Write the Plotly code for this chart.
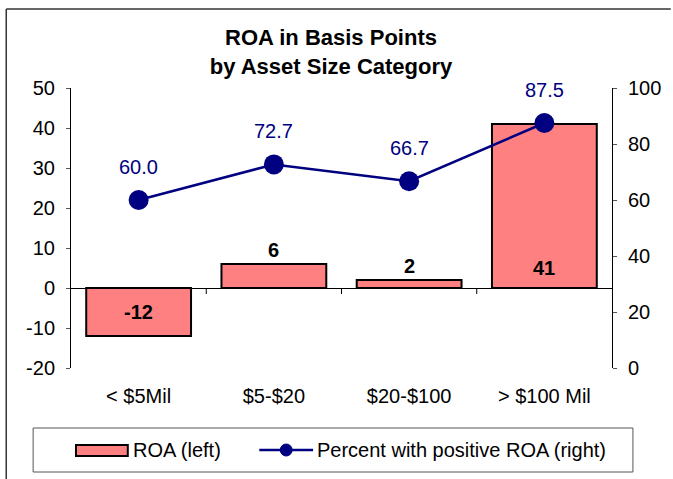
import plotly.graph_objects as go

categories = ["< $5Mil", "$5-$20", "$20-$100", "> $100 Mil"]
roa = [-12, 6, 2, 41]
pct_positive = [60.0, 72.7, 66.7, 87.5]
left_ticks = [-20, -10, 0, 10, 20, 30, 40, 50]
right_ticks = [0, 20, 40, 60, 80, 100]
bar_label_inside = [True, False, False, True]

W, H = 673, 479
L, R, T, B = 71, 59, 88, 111
pw, ph = W - L - R, H - T - B

def px(x):
    return (x - L) / pw

def py(y):
    return (H - B - y) / ph

font = "Liberation Sans, Arial, sans-serif"
navy = "#000080"
salmon = "#FF8080"
FS = 20

fig = go.Figure()
fig.add_trace(go.Bar(
    x=categories, y=roa, name="ROA (left)",
    marker=dict(color=salmon, line=dict(color="black", width=2)),
    width=0.775,
    showlegend=False,
    yaxis="y",
))
fig.add_trace(go.Scatter(
    x=categories, y=pct_positive, name="Percent with positive ROA (right)",
    mode="lines+markers",
    line=dict(color=navy, width=2.5),
    marker=dict(color=navy, size=20),
    showlegend=False,
    yaxis="y2",
))

# line value labels
for c, v in zip(categories, pct_positive):
    fig.add_annotation(x=c, y=v, yref="y2", text=f"{v:.1f}", showarrow=False,
                       yshift=33, yanchor="middle",
                       font=dict(family=font, size=FS, color=navy))

# bar value labels
for c, v, inside in zip(categories, roa, bar_label_inside):
    if inside:
        fig.add_annotation(x=c, y=0, yref="y", text=f"<b>{v}</b>", showarrow=False,
                           yanchor="middle", yshift=(20 if v > 0 else -24),
                           font=dict(family=font, size=FS, color="black"))
    else:
        fig.add_annotation(x=c, y=v, yref="y", text=f"<b>{v}</b>", showarrow=False,
                           yanchor="middle", yshift=14,
                           font=dict(family=font, size=FS, color="black"))

# category separator ticks on the zero line
for i in range(1, len(categories)):
    fig.add_shape(type="line", xref="x", yref="y", x0=i - 0.5, x1=i - 0.5, y0=0, y1=-1.5,
                  line=dict(color="black", width=1))

# legend box and entries
fig.add_shape(type="rect", xref="paper", yref="paper",
              x0=px(33), x1=px(635), y0=py(472), y1=py(428),
              line=dict(color="#555555", width=1))
fig.add_shape(type="rect", xref="paper", yref="paper",
              x0=px(76), x1=px(128), y0=py(456), y1=py(445),
              fillcolor=salmon, line=dict(color="black", width=2))
fig.add_annotation(xref="paper", yref="paper", x=px(131), y=py(450), xanchor="left",
                   yanchor="middle", text="ROA (left)", showarrow=False,
                   font=dict(family=font, size=FS, color="black"))
fig.add_shape(type="line", xref="paper", yref="paper",
              x0=px(260), x1=px(314), y0=py(450), y1=py(450),
              line=dict(color=navy, width=2.5))
fig.add_shape(type="circle", xref="paper", yref="paper",
              x0=px(281), x1=px(293), y0=py(456), y1=py(444),
              fillcolor=navy, line=dict(color=navy, width=1))
fig.add_annotation(xref="paper", yref="paper", x=px(316), y=py(450), xanchor="left",
                   yanchor="middle", text="Percent with positive ROA (right)", showarrow=False,
                   font=dict(family=font, size=FS, color="black"))

# outer frame (left and top edges visible)
fig.add_shape(type="line", xref="paper", yref="paper",
              x0=px(6), x1=px(6), y0=py(479), y1=py(9),
              line=dict(color="#333333", width=1.5))
fig.add_shape(type="line", xref="paper", yref="paper",
              x0=px(6), x1=px(673), y0=py(9), y1=py(9),
              line=dict(color="#333333", width=1.5))

fig.update_layout(
    width=W, height=H,
    margin=dict(l=L, r=R, t=T, b=B),
    paper_bgcolor="white", plot_bgcolor="white",
    font=dict(family=font, size=FS, color="black"),
    title=dict(text="<b>ROA in Basis Points<br>by Asset Size Category</b>",
               x=331 / W, xanchor="center", y=1 - 45 / H, yanchor="middle",
               font=dict(family=font, size=22, color="black")),
    showlegend=False,
    xaxis=dict(showline=False, ticks="", showgrid=False, zeroline=False,
               tickfont=dict(family=font, size=FS), ticklabelstandoff=14),
    yaxis=dict(range=[-20, 50], tickvals=left_ticks,
               ticktext=[str(t) for t in left_ticks], showgrid=False, zeroline=True,
               zerolinecolor="black", zerolinewidth=1,
               showline=True, linecolor="black", linewidth=1,
               ticks="outside", ticklen=4, tickcolor="#555555",
               ticklabelstandoff=7,
               tickfont=dict(family=font, size=FS)),
    yaxis2=dict(range=[0, 100], tickvals=right_ticks, overlaying="y", side="right",
                showgrid=False, zeroline=False,
                showline=True, linecolor="black", linewidth=1,
                ticks="outside", ticklen=4, tickcolor="#555555",
                ticklabelstandoff=7,
                tickfont=dict(family=font, size=FS)),
)

fig.write_html("out.html", config={"displayModeBar": False},
               post_script="document.body.style.margin='0';")
